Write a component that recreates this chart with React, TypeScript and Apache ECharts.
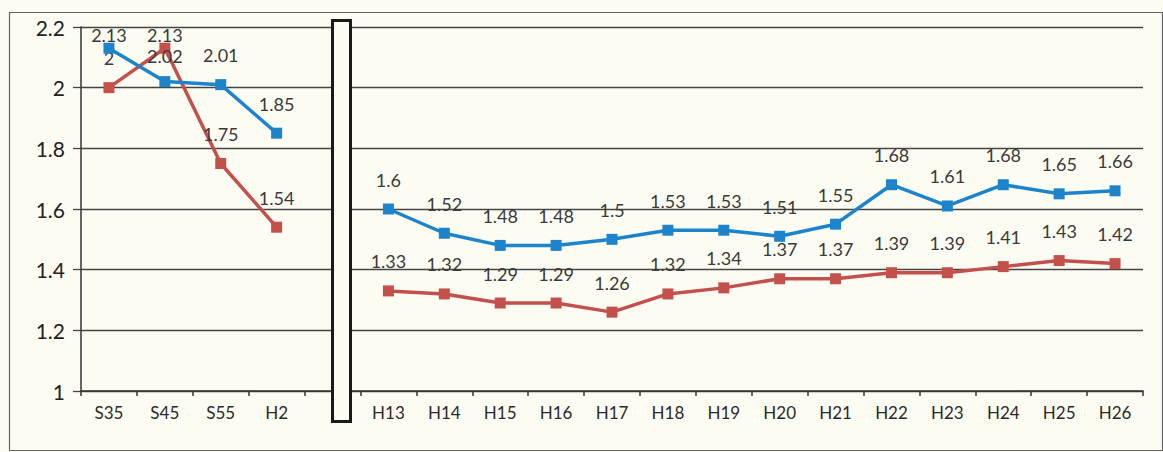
import React, { useEffect, useRef } from "react";
import * as echarts from "echarts";

const categories = ["S35", "S45", "S55", "H2", "", "H13", "H14", "H15", "H16", "H17", "H18", "H19", "H20", "H21", "H22", "H23", "H24", "H25", "H26"];
const blueValues = [2.13, 2.02, 2.01, 1.85, null, 1.6, 1.52, 1.48, 1.48, 1.5, 1.53, 1.53, 1.51, 1.55, 1.68, 1.61, 1.68, 1.65, 1.66];
const redValues = [2, 2.13, 1.75, 1.54, null, 1.33, 1.32, 1.29, 1.29, 1.26, 1.32, 1.34, 1.37, 1.37, 1.39, 1.39, 1.41, 1.43, 1.42];
const yMin = 1;
const yMax = 2.2;
const yStep = 0.2;

const BG = "#fdfcf3";
const FONT = "Lato, 'Noto Sans', sans-serif";

function buildData(values: (number | null)[], nudge: number[]) {
  return values.map((v, i) => {
    if (v === null) return null;
    if (v > 2.1) return { value: v, label: { distance: -1 } };
    if (nudge.includes(i)) return { value: v, label: { distance: 11 } };
    return v;
  });
}

export default function App() {
  const ref = useRef<HTMLDivElement>(null);
  useEffect(() => {
    document.body.style.margin = "0";
    document.body.style.background = BG;
    const chart = echarts.init(ref.current!, null, { renderer: "svg" });
    const labelCfg = {
      show: true,
      position: "top",
      distance: 15,
      color: "#3a3a3a",
      fontSize: 18,
      fontFamily: FONT,
    };
    chart.setOption({
      animation: false,
      backgroundColor: BG,
      grid: { left: 81, right: 20, top: 27, bottom: 61 },
      xAxis: {
        type: "category",
        data: categories,
        boundaryGap: true,
        axisLine: { show: true, lineStyle: { color: "#333", width: 1.5 } },
        axisTick: { show: true, length: 5, lineStyle: { color: "#333", width: 1.5 } },
        axisLabel: { color: "#2a2a2a", fontSize: 17, fontFamily: FONT, margin: 13 },
      },
      yAxis: {
        type: "value",
        min: yMin,
        max: yMax,
        interval: yStep,
        axisLine: { show: true, lineStyle: { color: "#333", width: 1.5 } },
        axisTick: { show: true, length: 8, lineStyle: { color: "#444", width: 1.3 } },
        axisLabel: { color: "#222", fontSize: 21, fontFamily: FONT, margin: 16 },
        splitLine: { show: true, lineStyle: { color: "#444", width: 1.4 } },
      },
      series: [
        {
          type: "line",
          data: buildData(blueValues, [1]),
          connectNulls: false,
          symbol: "rect",
          symbolSize: 11,
          itemStyle: { color: "#1d84cc" },
          lineStyle: { color: "#1d84cc", width: 3.5 },
          label: labelCfg,
          z: 3,
        },
        {
          type: "line",
          data: buildData(redValues, []),
          connectNulls: false,
          symbol: "rect",
          symbolSize: 11,
          itemStyle: { color: "#c4504c" },
          lineStyle: { color: "#c4504c", width: 3.5 },
          label: labelCfg,
          z: 2,
        },
      ],
      graphic: [
        {
          type: "rect",
          left: 7,
          top: 10,
          shape: { width: 1153, height: 438 },
          style: { fill: "none", stroke: "#666", lineWidth: 1.2 },
          silent: true,
          z: 1,
        },
        {
          type: "rect",
          left: 331,
          top: 19,
          shape: { width: 18, height: 401 },
          style: { fill: BG, stroke: "#1a1a1a", lineWidth: 3 },
          silent: true,
          z: 10,
        },
      ],
    });
    return () => chart.dispose();
  }, []);
  return <div ref={ref} style={{ width: 1163, height: 452 }} />;
}
